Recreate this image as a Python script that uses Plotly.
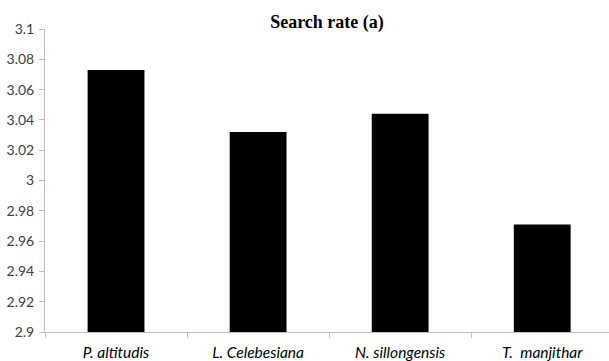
import plotly.graph_objects as go

species = ["P. altitudis", "L. Celebesiana", "N. sillongensis", "T.  manjithar"]
search_rate = [3.073, 3.032, 3.044, 2.971]
y_tick_vals = [2.9, 2.92, 2.94, 2.96, 2.98, 3.0, 3.02, 3.04, 3.06, 3.08, 3.1]
y_tick_text = ["2.9", "2.92", "2.94", "2.96", "2.98", "3", "3.02", "3.04", "3.06", "3.08", "3.1"]
title_text = "<b>Search rate (a)</b>"

fig = go.Figure()
fig.add_trace(go.Bar(
    x=species, y=search_rate,
    marker=dict(color="#000000", line=dict(width=0)),
    width=0.4,
))

fig.update_layout(
    width=609, height=361,
    margin=dict(l=45, r=0, t=29, b=29, pad=0),
    paper_bgcolor="white", plot_bgcolor="white",
    showlegend=False,
    title=dict(text=title_text, x=327/609, xref="container", xanchor="center",
               y=1 - 22/361, yref="container", yanchor="middle",
               font=dict(family="Liberation Serif", size=18, color="#000000")),
)

fig.update_xaxes(
    type="category",
    range=[-0.5, 3.47],
    showline=True, linecolor="#bfbfbf", linewidth=1,
    ticks="outside", tickson="boundaries", ticklen=5, tickcolor="#bfbfbf",
    showgrid=False, zeroline=False,
    tickfont=dict(family="Lato", size=15.5, color="#000000"),
    ticklabelstandoff=6,
    tickvals=species, ticktext=["<i>%s</i>" % s for s in species],
)

fig.update_yaxes(
    range=[2.9, 3.1],
    tickvals=y_tick_vals, ticktext=y_tick_text,
    showline=True, linecolor="#bfbfbf", linewidth=1,
    ticks="outside", ticklen=5, tickcolor="#bfbfbf",
    showgrid=False, zeroline=False,
    tickfont=dict(family="Lato", size=14, color="#404040"),
    ticklabelstandoff=2,
)

fig.write_html("out.html")
